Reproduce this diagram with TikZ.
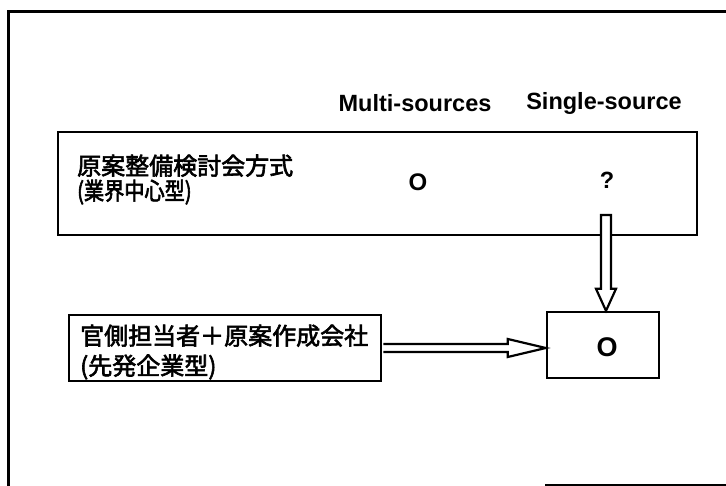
\documentclass[tikz,border=0pt]{standalone}
\usepackage{fontspec}
\newfontfamily\hdr{Liberation Sans}
\newfontfamily\cjk{Noto Sans CJK JP}[FakeBold=2.5]
\newfontfamily\cjknarrow{Noto Sans CJK JP}[FakeBold=2.5, FakeStretch=0.84]
\usetikzlibrary{calc}
\begin{document}
\begin{tikzpicture}[x=1pt,y=-1pt,
  box/.style={draw, line width=2.4pt, rectangle, inner sep=0pt},
  hd/.style={font=\hdr\bfseries\fontsize{23.5}{28}\selectfont, inner sep=0pt},
  jp/.style={font=\cjk\fontsize{24}{25}\selectfont, align=left, inner sep=0pt, anchor=west},
  okmark/.style={font=\hdr\bfseries\fontsize{24}{28}\selectfont, inner sep=0pt},
  hollow/.style={draw, line width=2.2pt, fill=white, line join=miter},
  frame/.style={line width=3pt}
]
\useasboundingbox (0,0) rectangle (726,486);
% outer frame
\draw[frame] (726,12) -- (8,12) -- (8,486);
\draw[frame] (545,485) -- (726,485);
% column headers
\node[hd] (hm) at (415,103) {Multi-sources};
\node[hd] (hs) at (604,103) {Single-source};
% box 1
\node[box, minimum width=639pt, minimum height=103pt] (b1) at (377.5,183.5) {};
\node[jp] (t1) at (77,179.5) {原案整備検討会方式\\{\cjknarrow (業界中心型)}};
\node[okmark] (m1) at (418,182) {O};
\node[hd] (q) at (607,180) {?};
% box 2
\node[box, minimum width=112pt, minimum height=66pt] (b2) at (603,345) {};
\node[okmark, font=\hdr\bfseries\fontsize{27}{30}\selectfont] (m2) at (607,347) {O};
% box 3
\node[box, minimum width=312pt, minimum height=66pt] (b3) at (225,348) {};
\node[jp, font=\cjk\fontsize{24}{30}\selectfont] (t3) at (80,352) {官側担当者＋原案作成会社\\(先発企業型)};
% down hollow arrow
\coordinate (s1) at (606,215);
\coordinate (e1) at (b2.north -| s1);
\draw[hollow] ($(s1)+(-5,0)$) -- ($(e1)+(-5,-22)$) -- ($(e1)+(-10,-22)$) -- (e1)
  -- ($(e1)+(10,-22)$) -- ($(e1)+(5,-22)$) -- ($(s1)+(5,0)$) -- cycle;
% right hollow arrow
\coordinate (s2) at ($(b3.east)+(1.2,0)$);
\coordinate (e2) at (b2.west |- b3.east);
\draw[hollow] ($(s2)+(0,-4)$) -- ($(e2)+(-38,-4)$) -- ($(e2)+(-38,-9)$) -- (e2)
  -- ($(e2)+(-38,9)$) -- ($(e2)+(-38,4)$) -- ($(s2)+(0,4)$);
\end{tikzpicture}
\end{document}
